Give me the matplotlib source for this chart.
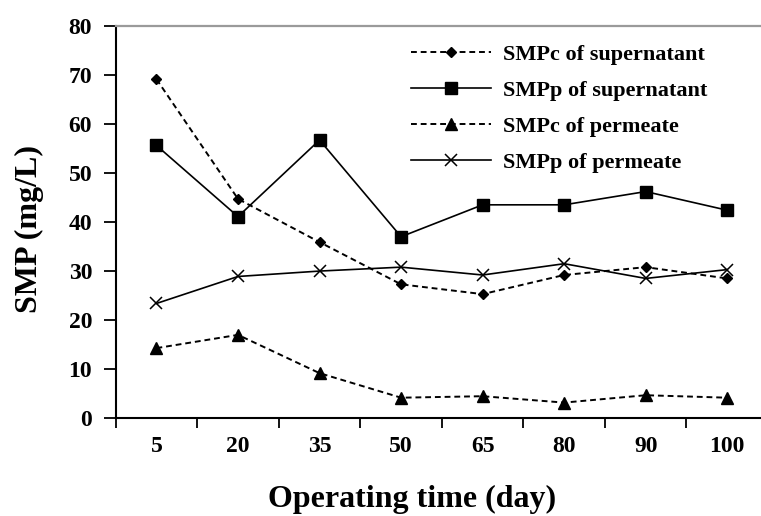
import matplotlib
matplotlib.use("Agg")
import matplotlib.pyplot as plt
import numpy as np

plt.rcParams['font.family'] = ['Liberation Serif', 'DejaVu Serif']
plt.rcParams['font.weight'] = 'bold'

categories = ["5", "20", "35", "50", "65", "80", "90", "100"]
smpc_super = [69.1, 44.7, 35.9, 27.3, 25.3, 29.2, 30.8, 28.5]
smpp_super = [55.6, 41.1, 56.7, 37.0, 43.5, 43.5, 46.2, 42.4]
smpc_perm = [14.3, 17.0, 9.2, 4.2, 4.5, 3.2, 4.7, 4.2]
smpp_perm = [23.4, 28.9, 30.0, 30.8, 29.2, 31.5, 28.5, 30.3]
series_labels = ["SMPc of supernatant", "SMPp of supernatant",
                 "SMPc of permeate", "SMPp of permeate"]
y_ticks = [0, 10, 20, 30, 40, 50, 60, 70, 80]

W, H = 761, 516
fig = plt.figure(figsize=(W / 100, H / 100), dpi=100)
left, right, bottom, top = 115.7, 768.0, 418.3, 25.7
ax = fig.add_axes([left / W, 1 - bottom / H, (right - left) / W, (bottom - top) / H])

x = np.arange(len(categories))
dash = (0, (3, 2))
ax.plot(x, smpc_super, color='black', linestyle=dash, linewidth=1.4,
        marker='D', markersize=5.5, label=series_labels[0])
ax.plot(x, smpp_super, color='black', linestyle='-', linewidth=1.2,
        marker='s', markersize=9, label=series_labels[1])
ax.plot(x, smpc_perm, color='black', linestyle=dash, linewidth=1.4,
        marker='^', markersize=8, label=series_labels[2])
ax.plot(x, smpp_perm, color='black', linestyle='-', linewidth=1.2,
        marker='x', markersize=8, markeredgewidth=1.1, label=series_labels[3])

ax.set_xlim(-0.5, len(categories) - 0.5)
ax.set_ylim(0, 80)
ax.set_yticks(y_ticks)
ax.set_yticklabels([str(v) for v in y_ticks])

# boundary ticks (major) without labels, category labels on minor ticks
ax.set_xticks(np.arange(-0.5, len(categories), 1.0))
ax.set_xticklabels([])
ax.set_xticks(x, minor=True)
ax.set_xticklabels(categories, minor=True)
ax.tick_params(axis='x', which='major', direction='out', length=7, width=1.3)
ax.tick_params(axis='x', which='minor', length=0, pad=13, labelsize=17)
ax.tick_params(axis='y', direction='out', length=9, width=1.3, pad=8, labelsize=17)

for side in ['left', 'bottom']:
    ax.spines[side].set_linewidth(1.5)
    ax.spines[side].set_color('black')
ax.spines['top'].set_color('#9a9a9a')
ax.spines['top'].set_linewidth(1.6)
ax.spines['right'].set_visible(False)

fig.text(29 / W, 1 - 229 / H, "SMP (mg/L)", rotation=90, ha='center', va='center',
         fontsize=23, fontweight='bold')
fig.text(412 / W, 1 - 507 / H, "Operating time (day)", ha='center', va='baseline',
         fontsize=23, fontweight='bold')

leg = ax.legend(loc='upper left', bbox_to_anchor=(411 / W, 1 - 44 / H),
                bbox_transform=fig.transFigure, frameon=False, fontsize=16,
                handlelength=3.6, handletextpad=0.55, labelspacing=0.7,
                borderpad=0, borderaxespad=0)

fig.savefig("out.png", dpi=100)
